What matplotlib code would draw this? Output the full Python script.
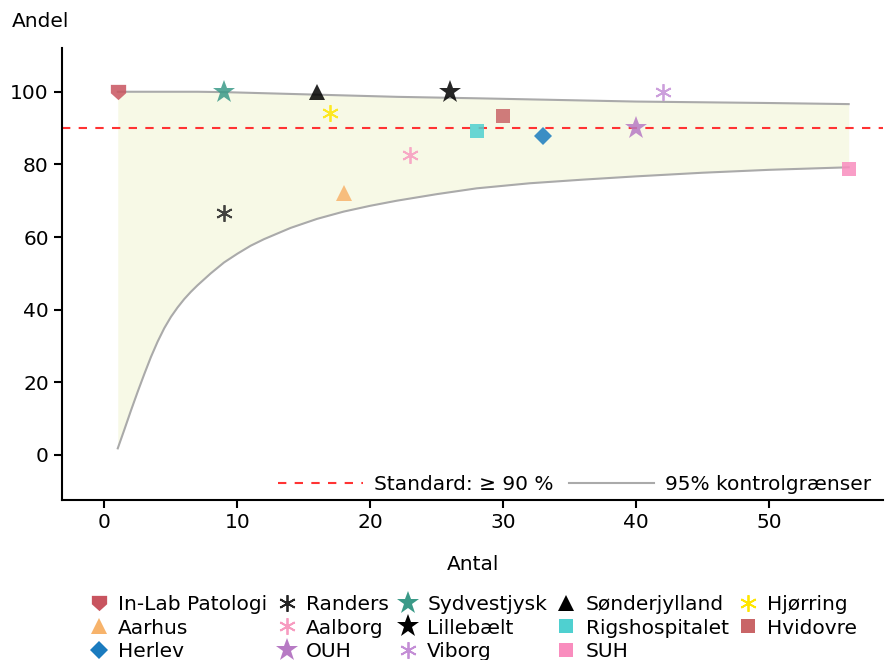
import matplotlib
matplotlib.use("Agg")
import matplotlib.pyplot as plt
from matplotlib.lines import Line2D

# ---- data ----
units = ["In-Lab Patologi", "Aarhus", "Herlev", "Randers", "Aalborg", "OUH",
         "Sydvestjysk", "Lillebælt", "Viborg", "Sønderjylland", "Rigshospitalet",
         "SUH", "Hjørring", "Hvidovre"]
antal = [1, 18, 33, 9, 23, 40, 9, 26, 42, 16, 28, 56, 17, 30]
andel = [100.0, 72.2, 87.9, 66.7, 82.6, 90.0, 100.0, 100.0, 100.0, 100.0, 89.3, 78.6, 94.1, 93.3]

limit_n = [1, 1.5, 2, 2.5, 3, 3.5, 4, 4.5, 5, 5.5, 6, 6.5, 7, 8, 9, 10, 11, 12, 14, 16, 18,
           20, 22, 25, 28, 32, 36, 40, 45, 50, 56]
lower_limit = [1.8, 7.0, 12.3, 17.4, 22.3, 27.0, 31.2, 34.9, 38.0, 40.6, 42.9, 44.9, 46.7,
               50.0, 53.0, 55.4, 57.6, 59.4, 62.5, 65.0, 67.0, 68.6, 70.0, 71.8, 73.4, 74.8,
               75.8, 76.7, 77.7, 78.5, 79.2]
upper_limit = [100.0, 100.0, 100.0, 100.0, 100.0, 100.0, 100.0, 100.0, 100.0, 100.0, 100.0,
               100.0, 100.0, 99.95, 99.9, 99.8, 99.7, 99.6, 99.4, 99.2, 99.0, 98.8, 98.6,
               98.4, 98.2, 97.9, 97.6, 97.3, 97.1, 96.9, 96.6]

standard = 90
x_ticks = [0, 10, 20, 30, 40, 50]
y_ticks = [0, 20, 40, 60, 80, 100]

# ---- styles ----
shield = [(-1, 1), (1, 1), (1, -0.1), (0, -1), (-1, -0.1), (-1, 1)]
style = {
    "In-Lab Patologi": dict(marker=shield, color="#C8545F", ms=11),
    "Aarhus": dict(marker="^", color="#F7B36B", ms=11),
    "Herlev": dict(marker="D", color="#1A7BBF", ms=9),
    "Randers": dict(marker=(6, 2, 0), color="#222222", ms=12),
    "Aalborg": dict(marker=(6, 2, 0), color="#F79BC0", ms=12),
    "OUH": dict(marker="*", color="#B77AC4", ms=17),
    "Sydvestjysk": dict(marker="*", color="#3B9A88", ms=17),
    "Lillebælt": dict(marker="*", color="#000000", ms=17),
    "Viborg": dict(marker=(6, 2, 0), color="#C48ED6", ms=12),
    "Sønderjylland": dict(marker="^", color="#000000", ms=11),
    "Rigshospitalet": dict(marker="s", color="#4FD0D0", ms=10),
    "SUH": dict(marker="s", color="#F98DBE", ms=10),
    "Hjørring": dict(marker=(6, 2, 0), color="#FFE600", ms=12),
    "Hvidovre": dict(marker="s", color="#C96567", ms=10),
}

FS = 14.5
plt.rcParams["font.family"] = ["DejaVu Sans"]
plt.rcParams["font.size"] = FS

fig = plt.figure(figsize=(8.85, 6.6), dpi=100)
ax = fig.add_axes([0.070, 0.242, 0.928, 0.685])

ax.fill_between(limit_n, lower_limit, upper_limit, color="#F7F9E6", lw=0, zorder=1)
ax.plot(limit_n, upper_limit, color="#AAAAAA", lw=1.5, zorder=2)
ax.plot(limit_n, lower_limit, color="#AAAAAA", lw=1.5, zorder=2)
ax.axhline(standard, color="#FF3333", ls=(0, (4, 4)), lw=1.5, zorder=2)

handles = []
for u, n, a in zip(units, antal, andel):
    st = style[u]
    is_ast = isinstance(st["marker"], tuple)
    kw = dict(marker=st["marker"], markersize=st["ms"], linestyle="none",
              color=st["color"], alpha=0.85)
    if is_ast:
        kw.update(markeredgecolor=st["color"], markeredgewidth=1.3)
    else:
        kw.update(markeredgewidth=0)
    ax.plot([n], [a], zorder=3, **kw)
    hk = dict(kw)
    hk["alpha"] = 1
    handles.append(Line2D([], [], label=u, **hk))

ax.set_xlim(-3.2, 58.6)
ax.set_ylim(-12.5, 112)
ax.set_xticks(x_ticks)
ax.set_yticks(y_ticks)
for s in ["top", "right"]:
    ax.spines[s].set_visible(False)
for s in ["left", "bottom"]:
    ax.spines[s].set_linewidth(1.5)
ax.tick_params(width=1.5, length=6, labelsize=FS)

ax.set_xlabel("Antal", fontsize=FS, labelpad=16)
fig.text(0.013, 0.968, "Andel", fontsize=FS, ha="left", va="center")

inner = [Line2D([], [], color="#FF3333", ls=(0, (4, 4)), lw=1.5, label="Standard: ≥ 90 %"),
         Line2D([], [], color="#AAAAAA", lw=1.5, label="95% kontrolgrænser")]
ax.legend(handles=inner, loc="lower right", ncol=2, frameon=False, fontsize=FS,
          handlelength=4.2, handletextpad=0.55, columnspacing=0.8,
          bbox_to_anchor=(1.0, -0.012), borderaxespad=0.2)

fig.legend(handles=handles, loc="upper left", ncol=5, frameon=False, fontsize=FS,
           bbox_to_anchor=(0.0893, 0.1136), handlelength=1.0, handletextpad=0.45,
           columnspacing=0.46, labelspacing=0.22, borderpad=0)

fig.savefig("out.png", dpi=100)
